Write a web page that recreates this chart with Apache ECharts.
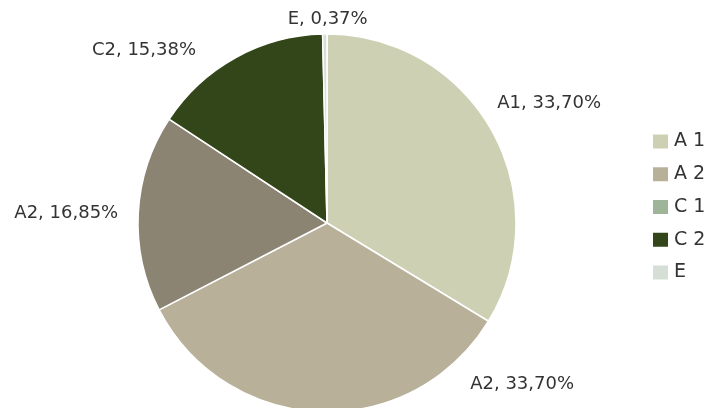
<!DOCTYPE html>
<html>
<head>
<meta charset="utf-8">
<script src="https://cdn.jsdelivr.net/npm/echarts@6/dist/echarts.min.js"></script>
<style>
  html, body { margin: 0; padding: 0; background: #fff; }
  #chart { width: 709px; height: 408px; }
</style>
</head>
<body>
<div id="chart"></div>
<script>
// slices, clockwise from 12 o'clock
const sliceNames = ['A 1', 'A 2', 'C 1', 'C 2', 'E']
const sliceLabels = ['A1', 'A2', 'A2', 'C2', 'E']
const sliceValues = [33.70, 33.70, 16.85, 15.38, 0.37]
const sliceColors = ['#cdd0b3', '#b8b099', '#8b8473', '#33461a', '#d6dfd6']
const legendColors = ['#cdd0b3', '#b8b099', '#9fb59a', '#33461a', '#d6dfd6']

// nudges for the outside labels (px), same order as slices
const labelShift = [[-16, -21], [265, -14], [-3, 12], [-28, 3], [54, -3]]

const chart = echarts.init(document.getElementById('chart'))

chart.setOption({
  animation: false,
  textStyle: { fontFamily: 'DejaVu Sans, sans-serif' },
  legend: {
    orient: 'vertical',
    left: 651,
    top: 132,
    padding: 0,
    itemWidth: 17,
    itemHeight: 16,
    itemGap: 13.75,
    icon: 'rect',
    textStyle: { fontSize: 19, color: '#333' },
    data: sliceNames.map((n, i) => ({ name: n, itemStyle: { color: legendColors[i] } }))
  },
  series: [
    {
      type: 'pie',
      center: [327, 223],
      radius: 189,
      startAngle: 90,
      clockwise: true,
      itemStyle: { borderColor: '#fff', borderWidth: 1.5 },
      label: {
        show: true,
        position: 'outside',
        fontSize: 18,
        color: '#333',
        formatter: p => sliceLabels[p.dataIndex] + ', ' + p.value.toFixed(2).replace('.', ',') + '%'
      },
      labelLine: { show: false, length: 12, length2: 6 },
      labelLayout: p => ({ dx: labelShift[p.dataIndex][0], dy: labelShift[p.dataIndex][1] }),
      emphasis: { disabled: true },
      data: sliceNames.map((n, i) => ({
        name: n,
        value: sliceValues[i],
        itemStyle: { color: sliceColors[i] }
      }))
    }
  ]
})
</script>
</body>
</html>
